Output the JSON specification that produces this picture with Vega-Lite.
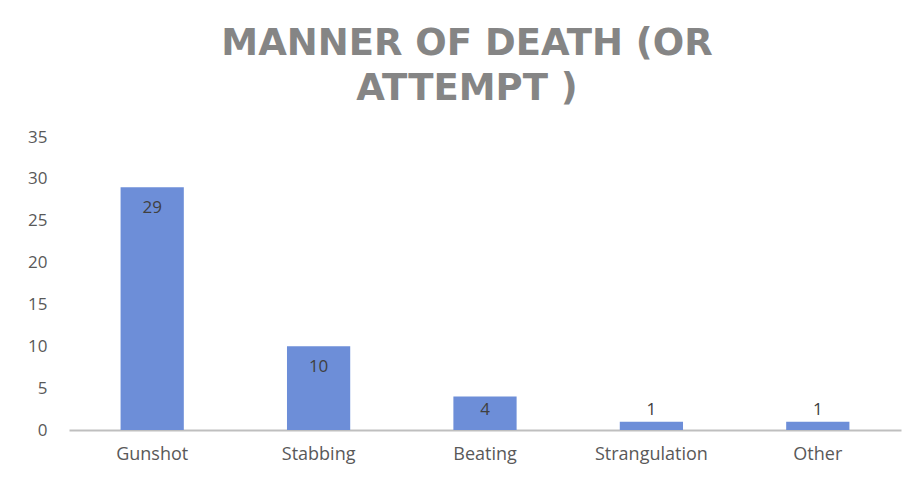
{
  "$schema": "https://vega.github.io/schema/vega-lite/v6.json",
  "autosize": "none",
  "width": 832,
  "height": 293,
  "padding": {"left": 69, "top": 137, "right": 19, "bottom": 47},
  "background": "white",
  "title": {
    "text": ["MANNER OF DEATH (OR", "ATTEMPT )"],
    "anchor": "middle",
    "frame": "group",
    "font": "DejaVu Sans",
    "fontSize": 37,
    "fontWeight": "bold",
    "color": "#858585",
    "lineHeight": 45,
    "dx": -18,
    "offset": 20
  },
  "data": {
    "values": [
      {"manner": "Gunshot", "count": 29},
      {"manner": "Stabbing", "count": 10},
      {"manner": "Beating", "count": 4},
      {"manner": "Strangulation", "count": 1},
      {"manner": "Other", "count": 1}
    ]
  },
  "encoding": {
    "x": {
      "field": "manner",
      "type": "nominal",
      "sort": null,
      "scale": {"paddingInner": 0.62, "paddingOuter": 0.31},
      "axis": {
        "title": null,
        "labelAngle": 0,
        "labelFont": "Open Sans",
        "labelFontSize": 18,
        "labelColor": "#595959",
        "labelPadding": 15,
        "ticks": false,
        "domainColor": "#bfbfbf",
        "domainWidth": 2
      }
    }
  },
  "layer": [
    {
      "mark": {"type": "bar", "color": "#6d8ed8"},
      "encoding": {
        "y": {
          "field": "count",
          "type": "quantitative",
          "scale": {"domain": [0, 35]},
          "axis": {
            "title": null,
            "values": [0, 5, 10, 15, 20, 25, 30, 35],
            "grid": false,
            "domain": false,
            "ticks": false,
            "labelFont": "Open Sans",
            "labelFontSize": 17,
            "labelColor": "#595959",
            "labelPadding": 22
          }
        }
      }
    },
    {
      "transform": [{"filter": "datum.count >= 10"}],
      "mark": {"type": "text", "baseline": "middle", "dy": 21, "font": "Open Sans", "fontSize": 17, "color": "#404040"},
      "encoding": {
        "y": {"field": "count", "type": "quantitative"},
        "text": {"field": "count", "type": "quantitative"}
      }
    },
    {
      "transform": [{"filter": "datum.count < 10"}],
      "mark": {"type": "text", "baseline": "middle", "dy": -20, "font": "Open Sans", "fontSize": 17, "color": "#404040"},
      "encoding": {
        "y": {"datum": 0, "type": "quantitative"},
        "text": {"field": "count", "type": "quantitative"}
      }
    }
  ],
  "config": {"view": {"stroke": null}}
}
